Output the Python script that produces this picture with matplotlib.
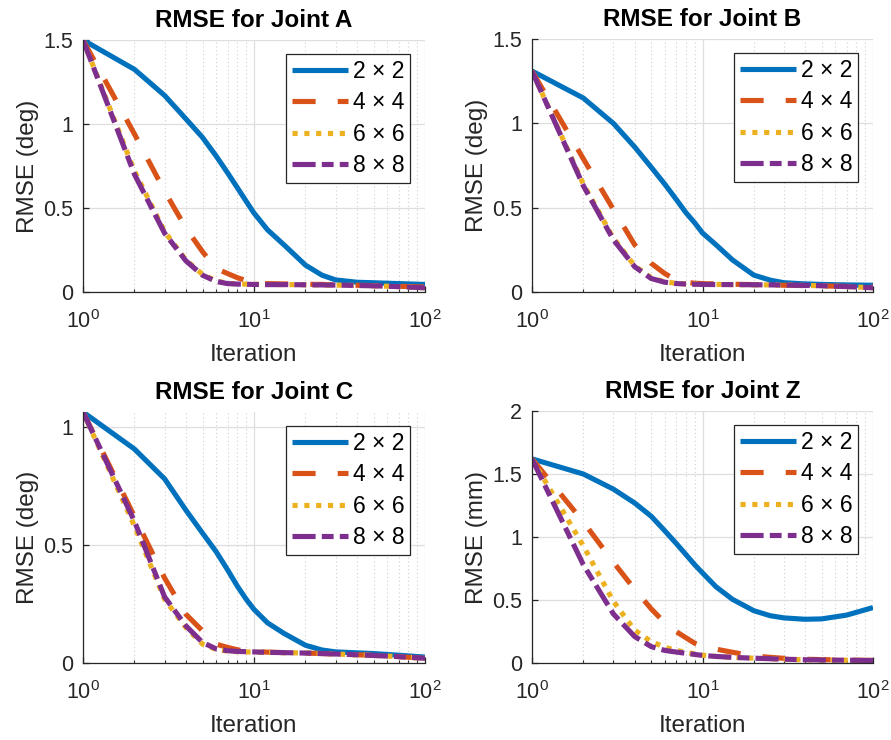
import numpy as np
import matplotlib
matplotlib.use('Agg')
import matplotlib.pyplot as plt
from matplotlib.ticker import FixedLocator, LogLocator, NullFormatter

plt.rcParams['font.family'] = ['Liberation Sans', 'DejaVu Sans']
plt.rcParams['mathtext.fontset'] = 'custom'
plt.rcParams['mathtext.rm'] = 'Liberation Sans'
plt.rcParams['mathtext.it'] = 'Liberation Sans'

iters = [1, 2, 3, 4, 5, 6, 7, 8, 9, 10, 12, 15, 20, 25, 30, 40, 50, 70, 100]
labels = ['2 × 2', '4 × 4', '6 × 6', '8 × 8']

# Joint A (deg)
a_2 = [1.5, 1.325, 1.17, 1.03, 0.92, 0.81, 0.71, 0.62, 0.54, 0.47, 0.37, 0.28, 0.16, 0.10, 0.072, 0.058, 0.055, 0.05, 0.045]
a_4 = [1.5, 0.94, 0.60, 0.38, 0.24, 0.14, 0.11, 0.085, 0.068, 0.055, 0.05, 0.048, 0.046, 0.045, 0.043, 0.04, 0.038, 0.034, 0.03]
a_6 = [1.5, 0.72, 0.36, 0.19, 0.105, 0.066, 0.052, 0.048, 0.047, 0.046, 0.045, 0.044, 0.043, 0.042, 0.041, 0.039, 0.037, 0.032, 0.025]
a_8 = [1.5, 0.70, 0.35, 0.185, 0.10, 0.063, 0.05, 0.047, 0.046, 0.045, 0.044, 0.044, 0.043, 0.042, 0.041, 0.039, 0.037, 0.032, 0.025]

# Joint B (deg)
b_2 = [1.31, 1.15, 1.00, 0.86, 0.74, 0.64, 0.55, 0.47, 0.41, 0.35, 0.28, 0.19, 0.10, 0.07, 0.055, 0.048, 0.045, 0.042, 0.04]
b_4 = [1.31, 0.79, 0.49, 0.28, 0.17, 0.11, 0.07, 0.058, 0.052, 0.05, 0.048, 0.046, 0.044, 0.042, 0.04, 0.038, 0.036, 0.033, 0.03]
b_6 = [1.31, 0.64, 0.32, 0.155, 0.085, 0.06, 0.052, 0.048, 0.047, 0.046, 0.045, 0.044, 0.043, 0.042, 0.041, 0.039, 0.037, 0.032, 0.025]
b_8 = [1.31, 0.63, 0.31, 0.15, 0.08, 0.058, 0.05, 0.047, 0.046, 0.045, 0.044, 0.044, 0.043, 0.042, 0.041, 0.039, 0.037, 0.032, 0.025]

# Joint C (deg)
c_2 = [1.063, 0.906, 0.78, 0.647, 0.55, 0.472, 0.395, 0.325, 0.27, 0.227, 0.17, 0.125, 0.075, 0.055, 0.047, 0.043, 0.04, 0.033, 0.025]
c_4 = [1.063, 0.62, 0.36, 0.206, 0.136, 0.08, 0.066, 0.056, 0.05, 0.048, 0.046, 0.044, 0.042, 0.04, 0.038, 0.035, 0.032, 0.027, 0.02]
c_6 = [1.063, 0.58, 0.27, 0.15, 0.08, 0.058, 0.05, 0.048, 0.047, 0.046, 0.045, 0.044, 0.042, 0.04, 0.038, 0.035, 0.032, 0.027, 0.02]
c_8 = [1.063, 0.60, 0.28, 0.157, 0.087, 0.06, 0.052, 0.049, 0.048, 0.047, 0.045, 0.044, 0.042, 0.04, 0.038, 0.035, 0.032, 0.027, 0.02]

# Joint Z (mm)
z_2 = [1.62, 1.50, 1.38, 1.27, 1.165, 1.05, 0.95, 0.86, 0.78, 0.715, 0.605, 0.505, 0.415, 0.375, 0.358, 0.347, 0.35, 0.38, 0.44]
z_4 = [1.62, 1.12, 0.80, 0.585, 0.43, 0.32, 0.25, 0.20, 0.157, 0.135, 0.11, 0.085, 0.055, 0.045, 0.037, 0.03, 0.027, 0.023, 0.02]
z_6 = [1.62, 0.93, 0.49, 0.26, 0.17, 0.125, 0.10, 0.085, 0.072, 0.062, 0.052, 0.045, 0.038, 0.034, 0.03, 0.026, 0.024, 0.022, 0.02]
z_8 = [1.62, 0.78, 0.39, 0.21, 0.13, 0.10, 0.087, 0.077, 0.068, 0.06, 0.052, 0.045, 0.038, 0.034, 0.03, 0.026, 0.024, 0.022, 0.02]

panels = [
    ('RMSE for Joint A', 'RMSE (deg)', [a_2, a_4, a_6, a_8], 1.5, [0, 0.5, 1, 1.5]),
    ('RMSE for Joint B', 'RMSE (deg)', [b_2, b_4, b_6, b_8], 1.5, [0, 0.5, 1, 1.5]),
    ('RMSE for Joint C', 'RMSE (deg)', [c_2, c_4, c_6, c_8], 1.063, [0, 0.5, 1]),
    ('RMSE for Joint Z', 'RMSE (mm)', [z_2, z_4, z_6, z_8], 2, [0, 0.5, 1, 1.5, 2]),
]

colors = ['#0072BD', '#D95319', '#EDB120', '#7E2F8E']
dashes = [None, (4.5, 4.3), (1, 1.3), (4.5, 1.2, 2.3, 1.2)]
lw = 3.7
dark = '#262626'

W, H = 891, 740
fig = plt.figure(figsize=(W / 100, H / 100), dpi=100)

# axes boxes in pixels: left, top, right, bottom
boxes = [(83, 40, 425, 292), (532, 39, 873, 292),
         (83, 412, 425, 663), (532, 411, 873, 663)]

for (title, ylab, series, ytop, yt), (l, t, r, b) in zip(panels, boxes):
    ax = fig.add_axes([l / W, 1 - b / H, (r - l) / W, (b - t) / H])
    for k in range(4):
        ln, = ax.plot(iters, series[k], color=colors[k], lw=lw, label=labels[k],
                      solid_capstyle='butt', dash_capstyle='butt')
        if dashes[k] is not None:
            ln.set_dashes(dashes[k])
    ax.set_xscale('log')
    ax.set_xlim(1, 100)
    ax.set_ylim(0, ytop)
    ax.yaxis.set_major_locator(FixedLocator(yt))
    ax.set_yticklabels(['%g' % v for v in yt])
    ax.xaxis.set_major_locator(FixedLocator([1, 10, 100]))
    ax.set_xticklabels([r'$10^{0}$', r'$10^{1}$', r'$10^{2}$'])
    ax.xaxis.set_minor_locator(LogLocator(base=10, subs=np.arange(2, 10)))
    ax.xaxis.set_minor_formatter(NullFormatter())

    ax.grid(True, which='major', color='#dedede', lw=0.9, ls='-')
    ax.grid(True, which='minor', axis='x', color='#d0d0d0', lw=0.8, ls=(0, (1, 2.5)))
    ax.set_axisbelow(True)

    for s in ['top', 'right']:
        ax.spines[s].set_visible(False)
    for s in ['left', 'bottom']:
        ax.spines[s].set_color(dark)
        ax.spines[s].set_linewidth(0.9)
    ax.tick_params(axis='both', which='major', direction='in', length=4, width=0.9,
                   colors=dark, labelsize=15.5)
    ax.tick_params(axis='x', which='major', pad=13)
    ax.tick_params(axis='y', which='major', pad=7)
    ax.tick_params(axis='x', which='minor', direction='in', length=2.5, width=0.8, colors=dark)

    ax.set_title(title, fontsize=17.5, fontweight='bold', color='black', pad=9.5)
    ax.set_xlabel('Iteration', fontsize=17.5, color=dark, labelpad=8)
    ax.set_ylabel(ylab, fontsize=17.5, color=dark, labelpad=3)

    # legend top right, frame at ~14 px from the axes edges
    lx = 1 - 15 / (r - l)
    ly = 1 - 14 / (b - t)
    leg = ax.legend(loc='upper right', bbox_to_anchor=(lx, ly), borderaxespad=0,
                    fontsize=16.5, handlelength=2.45, handletextpad=0.2,
                    labelspacing=0.37, borderpad=0.25, fancybox=False,
                    framealpha=1, edgecolor=dark)
    leg.get_frame().set_linewidth(0.9)

fig.savefig('out.png', dpi=100)
